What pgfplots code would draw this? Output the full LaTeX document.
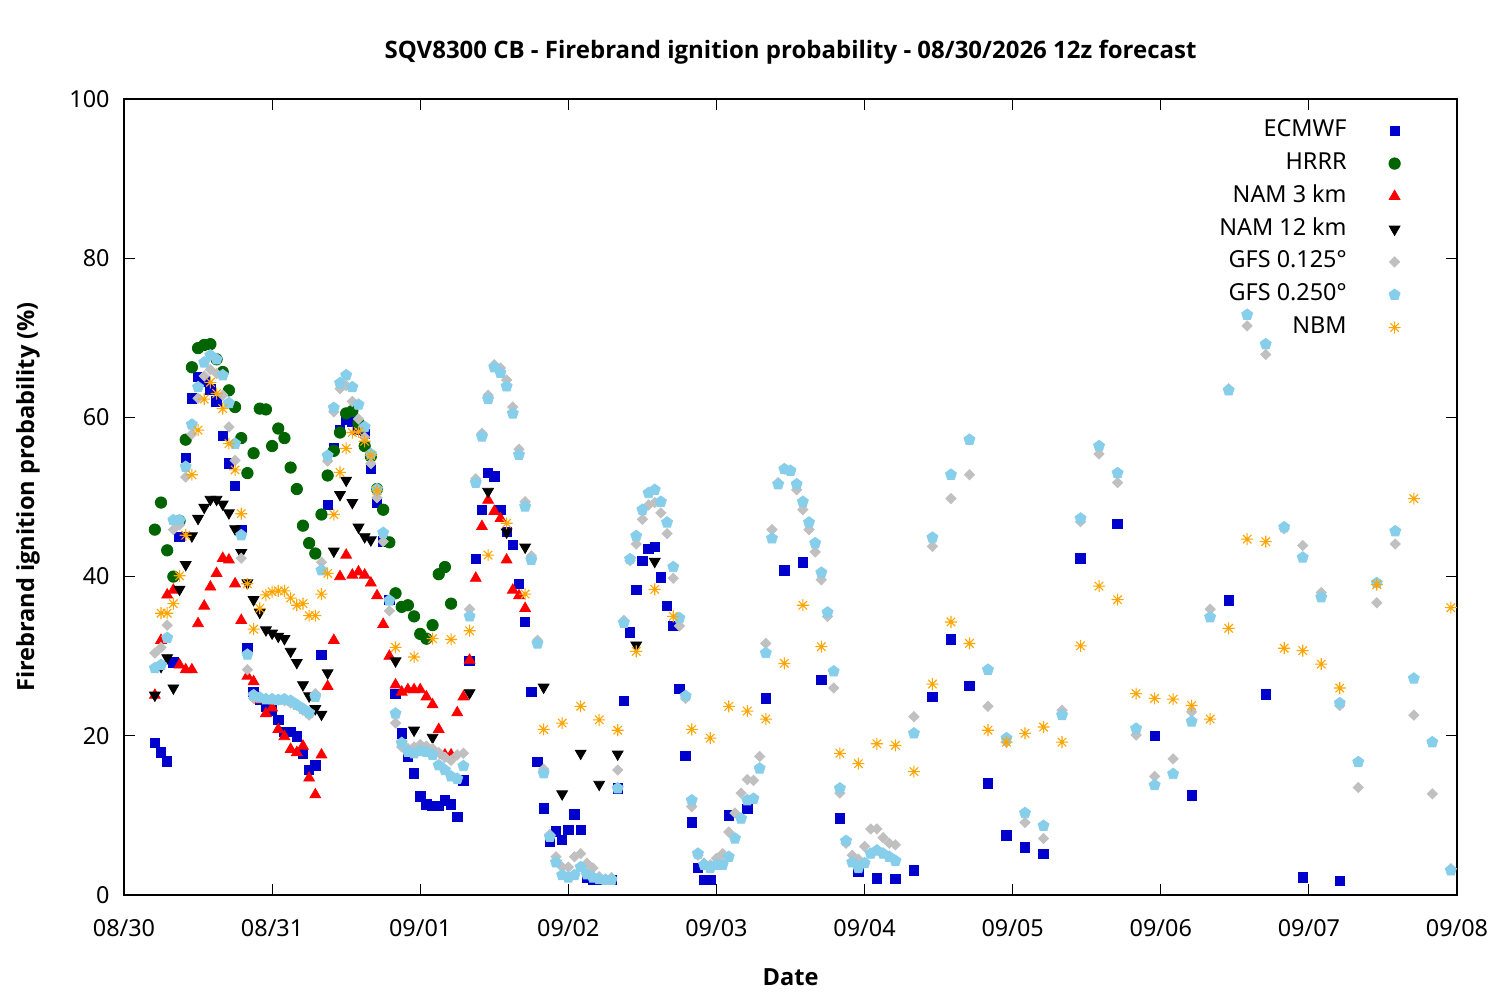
\documentclass[border=0pt]{standalone}
\usepackage{fontspec}
\setmainfont{Noto Sans}
\newfontfamily\boldsans{Open Sans}
\usepackage{pgfplots}
\pgfplotsset{compat=1.18}
\usetikzlibrary{plotmarks}
\definecolor{cEC}{RGB}{0,0,204}
\definecolor{cHR}{RGB}{0,100,0}
\definecolor{cN3}{RGB}{255,0,0}
\definecolor{cG1}{RGB}{192,192,192}
\definecolor{cG2}{RGB}{135,206,235}
\definecolor{cNB}{RGB}{255,165,0}
\pgfdeclareplotmark{ast8}{%
 \pgfpathmoveto{\pgfqpoint{-\pgfplotmarksize}{0pt}}\pgfpathlineto{\pgfqpoint{\pgfplotmarksize}{0pt}}%
 \pgfpathmoveto{\pgfqpoint{0pt}{-\pgfplotmarksize}}\pgfpathlineto{\pgfqpoint{0pt}{\pgfplotmarksize}}%
 \pgfpathmoveto{\pgfqpoint{-0.7071\pgfplotmarksize}{-0.7071\pgfplotmarksize}}\pgfpathlineto{\pgfqpoint{0.7071\pgfplotmarksize}{0.7071\pgfplotmarksize}}%
 \pgfpathmoveto{\pgfqpoint{-0.7071\pgfplotmarksize}{0.7071\pgfplotmarksize}}\pgfpathlineto{\pgfqpoint{0.7071\pgfplotmarksize}{-0.7071\pgfplotmarksize}}%
 \pgfusepathqstroke}
\begin{document}
\begin{tikzpicture}
\path[use as bounding box] (-62pt,-52.5pt) rectangle (688pt,447.5pt);
\begin{axis}[
  at={(0pt,0pt)}, anchor=south west,
  scale only axis, width=666.5pt, height=398pt,
  xmin=0, xmax=216, ymin=0, ymax=100,
  xtick={0,24,...,216},
  xticklabels={08/30,08/31,09/01,09/02,09/03,09/04,09/05,09/06,09/07,09/08},
  ytick={0,20,...,100},
  tick align=inside, major tick length=5.5pt,
  axis line style={line width=0.6pt},
  tick style={line width=0.6pt, black},
  /pgf/number format/assume math mode=true,
  tick label style={font=\fontsize{11.7}{14}\selectfont},
  xticklabel style={anchor=base, yshift=-21pt},
  yticklabel style={anchor=east, inner sep=0pt, xshift=-7pt},
  title={SQV8300 CB - Firebrand ignition probability - 08/30/2026 12z forecast},
  title style={at={(0.5,1)}, anchor=base, yshift=14pt, font=\boldsans\bfseries\fontsize{12}{14}\selectfont},
  xlabel={Date},
  xlabel style={at={(axis description cs:0.5,-0.103)}, anchor=center, font=\boldsans\bfseries\fontsize{11.8}{14}\selectfont},
  ylabel={Firebrand ignition probability (\%)},
  ylabel style={at={(axis description cs:-0.072,0.5)}, anchor=center, font=\boldsans\bfseries\fontsize{11.8}{14}\selectfont},
  legend style={at={(axis description cs:0.958,0.9744)}, anchor=north east, draw=none, fill=none,
    inner sep=0pt, font=\fontsize{11.7}{14}\selectfont, row sep=5.4pt, column sep=21pt,
    nodes={inner sep=0pt, text height=8.5pt, text depth=2.5pt}},
  legend cell align=right,
  legend plot pos=right,
]
% ECMWF
\addplot[only marks, mark=square*, mark size=2.35pt, color=cEC] coordinates {
(5,19.1)(6,17.9)(7,16.8)(8,29.2)(9,45.0)(10,54.9)(11,62.4)(12,65.1)(13,64.5)(14,63.5)(15,62.0)(16,57.7)(17,54.2)(18,51.4)(19,45.9)(20,31.0)
(21,25.5)(22,24.5)(23,23.7)(24,23.2)(25,22.0)(26,20.5)(27,20.5)(28,19.9)(29,17.7)(30,15.7)(31,16.3)(32,30.2)(33,49.0)(34,56.1)(35,58.4)
(36,59.7)(37,59.5)(38,58.5)(39,57.9)(40,53.6)(41,49.3)(42,44.4)(43,37.1)(44,25.3)(45,20.3)(46,17.4)(47,15.3)(48,12.4)(49,11.4)(50,11.2)
(51,11.2)(52,11.9)(53,11.4)(54,9.8)(55,14.4)(56,29.4)(57,42.2)(58,48.4)(59,53.0)(60,52.6)(61,48.4)(62,45.6)(63,44.0)(64,39.1)(65,34.3)
(66,25.5)(67,16.7)(68,10.9)(69,6.7)(70,8.0)(71,6.9)(72,8.2)(73,10.1)(74,8.2)(75,2.2)(76,1.9)(77,1.9)(78,1.9)(79,1.9)(80,13.4)
(81,24.4)(82,33.0)(83,38.3)(84,42.0)(85,43.5)(86,43.7)(87,39.9)(88,36.3)(89,33.8)(90,25.9)(91,17.5)(92,9.1)(93,3.4)(94,1.9)(95,1.9)
(98,10.0)(101,10.8)(104,24.7)(107,40.8)(110,41.8)(113,27.0)(116,9.6)(119,2.9)(122,2.1)(125,2.0)(128,3.1)(131,24.9)(134,32.1)(137,26.3)
(140,14.0)(143,7.5)(146,6.0)(149,5.2)(155,42.3)(161,46.6)(167,20.0)(173,12.5)(179,37.0)(185,25.2)(191,2.2)(197,1.8)
};
\addlegendentry{ECMWF}
% HRRR
\addplot[only marks, mark=*, mark size=2.85pt, color=cHR] coordinates {
(5,45.9)(6,49.3)(7,43.3)(8,40.0)(9,47.0)(10,57.2)(11,66.3)(12,68.7)(13,69.1)(14,69.2)(15,67.3)(16,65.7)(17,63.4)(18,61.3)(19,57.4)(20,53.0)
(21,55.5)(22,61.1)(23,61.0)(24,56.4)(25,58.6)(26,57.4)(27,53.7)(28,51.0)(29,46.4)(30,44.2)(31,42.9)(32,47.8)(33,52.7)(34,55.8)(35,58.1)
(36,60.5)(37,60.8)(38,59.3)(39,56.4)(40,55.1)(41,51.0)(42,48.4)(43,44.3)(44,37.9)(45,36.2)(46,36.4)(47,35.0)(48,32.8)(49,32.2)(50,33.9)
(51,40.3)(52,41.2)(53,36.6)
};
\addlegendentry{HRRR}
% NAM 3 km
\addplot[only marks, mark=triangle*, mark size=3.1pt, color=cN3] coordinates {
(5,25.1)(6,32.0)(7,37.7)(8,38.3)(9,28.9)(10,28.3)(11,28.3)(12,34.1)(13,36.3)(14,38.7)(15,40.4)(16,42.3)(17,42.1)(18,39.1)(19,34.5)(20,27.5)
(21,26.8)(22,24.5)(23,22.8)(24,23.5)(25,20.8)(26,19.9)(27,18.3)(28,17.9)(29,18.7)(30,14.7)(31,12.6)(32,17.6)(33,26.2)(34,32.0)(35,40.0)
(36,42.7)(37,40.2)(38,40.6)(39,40.2)(40,39.2)(41,37.6)(42,34.0)(43,30.0)(44,26.4)(45,25.5)(46,25.8)(47,25.8)(48,25.8)(49,24.9)(50,23.9)
(51,20.8)(52,17.6)(53,17.6)(54,22.9)(55,24.9)(56,29.5)(57,39.8)(58,46.3)(59,49.6)(60,48.2)(61,47.3)(62,42.1)(63,38.3)(64,37.6)(65,36.0)
};
\addlegendentry{NAM 3 km}
% NAM 12 km
\addplot[only marks, mark=triangle*, mark size=3.1pt, mark options={rotate=180}, color=black] coordinates {
(5,25.1)(6,28.7)(7,29.8)(8,26.0)(9,38.4)(10,41.5)(11,45.1)(12,47.3)(13,48.7)(14,49.7)(15,49.7)(16,49.1)(17,48.0)(18,46.0)(19,43.0)(20,39.2)
(21,37.1)(22,35.5)(23,33.3)(24,32.9)(25,32.5)(26,32.2)(27,30.6)(28,29.2)(29,26.4)(30,25.0)(31,23.4)(32,22.7)(33,27.9)(34,43.2)(35,50.3)
(36,52.1)(37,49.3)(38,46.2)(39,45.0)(40,44.6)(44,29.4)(47,20.7)(50,19.8)(56,25.4)(59,50.7)(62,45.6)(65,43.7)(68,26.1)(71,12.7)(74,17.8)
(77,13.9)(80,17.7)(83,31.4)(86,41.9)
};
\addlegendentry{NAM 12 km}
% GFS 0.125
\addplot[only marks, mark=square*, mark size=1.8pt, mark options={rotate=45}, color=cG1] coordinates {
(5,30.4)(6,31.1)(7,33.9)(8,45.9)(9,46.5)(10,52.5)(11,57.9)(12,62.4)(13,65.2)(14,66.0)(15,65.5)(16,62.8)(17,58.8)(18,54.6)(19,42.3)(20,28.3)
(21,24.7)(22,24.9)(23,24.7)(24,24.6)(25,24.5)(26,24.4)(27,24.1)(28,23.8)(29,23.2)(30,22.6)(31,25.3)(32,41.8)(33,54.5)(34,60.7)(35,63.6)
(36,64.0)(37,62.0)(38,59.8)(39,57.5)(40,54.2)(41,49.9)(42,44.4)(43,35.7)(44,21.6)(45,18.6)(46,18.4)(47,18.6)(48,18.9)(49,18.7)(50,18.4)
(51,17.9)(52,17.3)(53,16.9)(54,17.6)(55,17.8)(56,35.9)(57,52.3)(58,58.0)(59,62.8)(60,66.6)(61,66.2)(62,64.7)(63,61.3)(64,56.0)(65,49.4)
(66,42.6)(67,32.0)(68,15.8)(69,7.6)(70,4.8)(71,3.5)(72,3.5)(73,4.8)(74,5.2)(75,4.0)(76,3.4)(77,2.3)(78,2.0)(79,2.2)(80,15.7)
(81,34.5)(82,42.0)(83,44.1)(84,47.2)(85,49.0)(86,49.3)(87,48.0)(88,45.4)(89,39.8)(90,33.8)(91,24.7)(92,11.1)(93,5.0)(94,4.0)(95,3.8)
(96,4.6)(97,5.2)(98,7.9)(99,10.3)(100,12.8)(101,14.5)(102,14.4)(103,17.4)(104,31.6)(105,45.9)(106,51.8)(107,53.5)(108,53.3)(109,50.9)(110,48.4)
(111,45.9)(112,43.1)(113,39.6)(114,35.0)(115,26.0)(116,12.8)(117,6.5)(118,5.0)(119,4.5)(120,6.1)(121,8.3)(122,8.3)(123,7.2)(124,6.5)(125,6.3)
(128,22.4)(131,43.8)(134,49.8)(137,52.8)(140,23.7)(143,19.2)(146,9.1)(149,7.1)(152,23.2)(155,46.9)(158,55.4)(161,51.8)(164,20.1)(167,14.9)
(170,17.1)(173,23.0)(176,35.9)(179,63.6)(182,71.5)(185,67.9)(188,46.0)(191,43.9)(194,38.0)(197,23.8)(200,13.5)(203,36.7)(206,44.1)(209,22.6)
(212,12.7)(215,3.3)
};
\addlegendentry{GFS 0.125°}
% GFS 0.250
\addplot[only marks, mark=pentagon*, mark size=2.9pt, color=cG2] coordinates {
(5,28.5)(6,28.9)(7,32.3)(8,47.1)(9,47.1)(10,53.8)(11,59.1)(12,63.8)(13,66.9)(14,67.8)(15,67.3)(16,65.3)(17,61.8)(18,56.7)(19,45.2)(20,30.2)
(21,25.1)(22,24.8)(23,24.6)(24,24.6)(25,24.5)(26,24.6)(27,24.4)(28,23.9)(29,23.4)(30,22.9)(31,24.9)(32,40.8)(33,55.2)(34,61.2)(35,64.3)
(36,65.3)(37,63.8)(38,61.6)(39,58.8)(40,55.4)(41,51.0)(42,45.5)(43,37.0)(44,22.8)(45,19.1)(46,18.0)(47,17.8)(48,18.1)(49,18.0)(50,17.6)
(51,16.3)(52,15.7)(53,14.9)(54,14.6)(55,16.2)(56,35.0)(57,51.8)(58,57.6)(59,62.3)(60,66.3)(61,65.6)(62,63.9)(63,60.5)(64,55.3)(65,48.8)
(66,42.1)(67,31.6)(68,15.3)(69,7.3)(70,4.1)(71,2.5)(72,2.2)(73,2.5)(74,3.5)(75,2.6)(76,2.2)(77,2.0)(78,1.9)(79,1.9)(80,13.4)
(81,34.2)(82,42.2)(83,45.1)(84,48.4)(85,50.5)(86,50.9)(87,49.4)(88,46.8)(89,41.2)(90,34.8)(91,25.0)(92,11.9)(93,5.2)(94,3.8)(95,3.4)
(96,3.8)(97,3.8)(98,4.8)(99,7.1)(100,9.6)(101,11.9)(102,12.1)(103,15.9)(104,30.4)(105,44.8)(106,51.6)(107,53.5)(108,53.3)(109,51.6)(110,49.4)
(111,46.8)(112,44.2)(113,40.5)(114,35.5)(115,28.1)(116,13.4)(117,6.8)(118,4.1)(119,3.4)(120,4.0)(121,5.2)(122,5.6)(123,5.2)(124,4.8)(125,4.3)
(128,20.3)(131,44.9)(134,52.8)(137,57.2)(140,28.3)(143,19.7)(146,10.3)(149,8.7)(152,22.6)(155,47.3)(158,56.4)(161,53.0)(164,20.9)(167,13.8)
(170,15.2)(173,21.8)(176,34.9)(179,63.4)(182,72.9)(185,69.2)(188,46.2)(191,42.4)(194,37.4)(197,24.1)(200,16.7)(203,39.2)(206,45.7)(209,27.2)
(212,19.2)(215,3.1)
};
\addlegendentry{GFS 0.250°}
% NBM
\addplot[only marks, mark=ast8, mark size=3pt, mark options={line width=0.55pt}, color=cNB] coordinates {
(6,35.4)(7,35.4)(8,36.6)(9,40.1)(10,45.2)(11,52.8)(12,58.4)(13,62.3)(14,64.4)(15,63.0)(16,61.1)(17,56.7)(18,53.4)(19,47.9)(20,39.1)
(21,33.4)(22,36.0)(23,37.7)(24,38.1)(25,38.2)(26,38.2)(27,37.3)(28,36.4)(29,36.6)(30,35.1)(31,35.1)(32,37.8)(33,40.4)(34,47.8)(35,53.1)
(36,56.1)(37,58.1)(38,58.2)(39,57.0)(40,55.2)(41,50.8)(44,31.1)(47,29.9)(50,32.2)(53,32.1)(56,33.2)(59,42.7)(62,46.7)(65,37.8)(68,20.8)
(71,21.6)(74,23.7)(77,22.0)(80,20.7)(83,30.6)(86,38.4)(89,35.0)(92,20.8)(95,19.7)(98,23.7)(101,23.1)(104,22.1)(107,29.1)(110,36.4)(113,31.2)
(116,17.8)(119,16.5)(122,19.0)(125,18.8)(128,15.5)(131,26.5)(134,34.3)(137,31.6)(140,20.7)(143,19.2)(146,20.3)(149,21.1)(152,19.2)(155,31.3)
(158,38.8)(161,37.1)(164,25.3)(167,24.7)(170,24.6)(173,23.8)(176,22.1)(179,33.5)(182,44.7)(185,44.4)(188,31.0)(191,30.7)(194,29.0)(197,26.0)
(203,39.0)(209,49.8)(215,36.1)
};
\addlegendentry{NBM}
\end{axis}
\end{tikzpicture}
\end{document}
